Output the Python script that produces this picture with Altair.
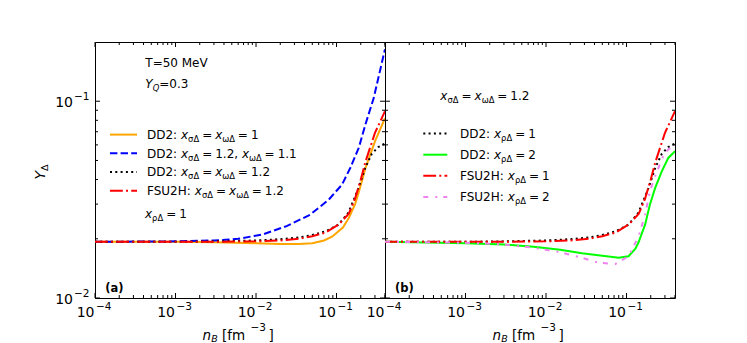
import altair as alt
import pandas as pd

FONT = "DejaVu Sans"

# ---------------- data ----------------
# panel (a)
orange_x = [1e-4, 1e-3, 3e-3, 1e-2, 0.02, 0.034, 0.05, 0.07, 0.088, 0.12, 0.142, 0.17, 0.189, 0.228, 0.30, 0.40]
orange_y = [0.0193, 0.0193, 0.0192, 0.0190, 0.0188, 0.0188, 0.0190, 0.0196, 0.0205, 0.0228, 0.0255, 0.0300, 0.0345, 0.0455, 0.0625, 0.082]

blue_x = [1e-4, 1e-3, 3e-3, 0.006, 0.012, 0.024, 0.047, 0.08, 0.117, 0.148, 0.189, 0.228, 0.29, 0.40]
blue_y = [0.0193, 0.0194, 0.0196, 0.0200, 0.0210, 0.0232, 0.0265, 0.0316, 0.0377, 0.0458, 0.058, 0.076, 0.104, 0.184]

black_x = [1e-4, 1e-3, 3e-3, 1e-2, 0.02, 0.034, 0.05, 0.073, 0.106, 0.141, 0.188, 0.227, 0.274, 0.33, 0.40]
black_y = [0.0193, 0.0193, 0.0194, 0.0196, 0.0199, 0.0203, 0.0209, 0.0218, 0.0236, 0.0272, 0.0363, 0.0458, 0.0540, 0.0585, 0.0610]

red_x = [1e-4, 1e-3, 3e-3, 1e-2, 0.02, 0.034, 0.05, 0.073, 0.106, 0.142, 0.17, 0.2, 0.228, 0.30, 0.40]
red_y = [0.0193, 0.0193, 0.0193, 0.0194, 0.0196, 0.0200, 0.0206, 0.0215, 0.0236, 0.0268, 0.032, 0.040, 0.049, 0.069, 0.089]

# panel (b)
green_x = [1e-4, 1e-3, 3e-3, 7e-3, 0.015, 0.028, 0.05, 0.08, 0.106, 0.129, 0.141, 0.17, 0.195, 0.227, 0.274, 0.33, 0.40]
green_y = [0.0193, 0.0190, 0.0187, 0.0182, 0.0176, 0.0169, 0.0164, 0.0160, 0.0163, 0.0178, 0.0192, 0.0236, 0.0298, 0.0363, 0.0440, 0.0515, 0.0557]

violet_x = [1e-4, 1e-3, 3e-3, 7e-3, 0.015, 0.028, 0.045, 0.073, 0.106, 0.141, 0.17, 0.195, 0.227, 0.29, 0.33, 0.40]
violet_y = [0.0193, 0.0191, 0.0187, 0.0180, 0.0171, 0.0160, 0.0151, 0.0149, 0.0163, 0.0205, 0.0265, 0.0348, 0.0416, 0.0536, 0.0569, 0.0600]

# ticks and tick labels (base / exponent)
x_major = [1e-4, 1e-3, 1e-2, 1e-1]
x_major_exp = ["−4", "−3", "−2", "−1"]
x_minor = [m * 10 ** k for k in (-4, -3, -2, -1) for m in range(2, 10) if m * 10 ** k <= 0.4]
y_major = [0.01, 0.1]
y_major_exp = ["−2", "−1"]
y_minor = [0.02, 0.03, 0.04, 0.05, 0.06, 0.07, 0.08, 0.09]

X_DOMAIN = [1e-4, 0.4]
Y_DOMAIN = [0.01, 0.2]

T_LABEL = "T=50 MeV"

# ---------------- layout constants ----------------
W, H = 290, 256
FS = 12
SUB = 0.7
SUB_DY = 3
EQ_GAP = 3
MAJ, MIN = 5, 3
TICK_FS, EXP_FS = 14, 10.5

xs = alt.Scale(type="log", domain=X_DOMAIN, nice=False)
ys = alt.Scale(type="log", domain=Y_DOMAIN, nice=False)

W_EM = {" ": 0.318, "0": 0.636, "1": 0.636, "2": 0.636, "3": 0.636, "4": 0.636, "5": 0.636,
        "=": 0.838, ":": 0.337, ".": 0.318, ",": 0.318, "D": 0.770, "F": 0.575, "S": 0.635,
        "U": 0.732, "H": 0.752, "T": 0.611, "M": 0.863, "e": 0.615, "V": 0.684, "Y": 0.611,
        "Q": 0.787, "x": 0.592, "n": 0.634, "B": 0.686, "σ": 0.634, "ω": 0.812, "ρ": 0.635,
        "Δ": 0.684}


def tw(s, fs):
    return sum(W_EM.get(c, 0.6) for c in s) * fs


def txt(t, x, y, fs, italic=False, bold=False, angle=0, dx=0, dy=0):
    kw = dict(align="left", baseline="alphabetic", font=FONT, fontSize=fs, color="black")
    if italic:
        kw["fontStyle"] = "italic"
    if bold:
        kw["fontWeight"] = "bold"
    if angle:
        kw["angle"] = angle
    if dx:
        kw["dx"] = dx
    if dy:
        kw["dy"] = dy
    return alt.Chart(alt.Data(values=[{"t": t}])).mark_text(**kw).encode(
        x=alt.value(x), y=alt.value(y), text="t:N")


def rich(segs, x0, yb, fs=FS):
    out = []
    x = x0
    for kind, s in segs:
        if kind == "eq":
            x += EQ_GAP
            out.append(txt("=", x, yb, fs))
            x += tw("=", fs) + EQ_GAP
        elif kind in ("sub", "subi"):
            f = fs * SUB
            out.append(txt(s, x, yb + SUB_DY, f, italic=(kind == "subi")))
            x += tw(s, f)
        else:
            out.append(txt(s, x, yb, fs, italic=(kind == "i")))
            x += tw(s, fs)
    return out


def xs_(g):
    return [("i", "x"), ("sub", g)]


def line(xv, yv, color, dash):
    df = pd.DataFrame({"x": xv, "y": yv})
    kw = dict(color=color, strokeWidth=2, clip=True)
    if dash:
        kw["strokeDash"] = dash
    return alt.Chart(df).mark_line(**kw).encode(
        x=alt.X("x:Q", scale=xs, axis=None),
        y=alt.Y("y:Q", scale=ys, axis=None))


def ticks():
    out = []
    for vals, L in ((x_major, MAJ), (x_minor, MIN)):
        d = pd.DataFrame({"v": vals})
        for y0, y1 in ((0, L), (H, H - L)):
            out.append(alt.Chart(d).mark_rule(color="black", strokeWidth=1).encode(
                x=alt.X("v:Q", scale=xs, axis=None), y=alt.value(y0), y2=alt.value(y1)))
    for vals, L in ((y_major, MAJ), (y_minor, MIN)):
        d = pd.DataFrame({"v": vals})
        for x0, x1 in ((0, L), (W, W - L)):
            out.append(alt.Chart(d).mark_rule(color="black", strokeWidth=1).encode(
                y=alt.Y("v:Q", scale=ys, axis=None), x=alt.value(x0), x2=alt.value(x1)))
    return out


def xlabels():
    d = pd.DataFrame({"v": x_major, "e": x_major_exp})
    base = alt.Chart(d).mark_text(align="right", baseline="alphabetic", font=FONT, fontSize=TICK_FS,
                                  color="black", dx=-0.5).encode(
        x=alt.X("v:Q", scale=xs, axis=None), y=alt.value(H + 19), text=alt.value("10"))
    ex = alt.Chart(d).mark_text(align="left", baseline="alphabetic", font=FONT, fontSize=EXP_FS,
                                color="black", dx=1).encode(
        x=alt.X("v:Q", scale=xs, axis=None), y=alt.value(H + 11.6), text="e:N")
    return [base, ex]


def ylabels():
    d = pd.DataFrame({"v": y_major, "e": y_major_exp})
    base = alt.Chart(d).mark_text(align="right", baseline="alphabetic", font=FONT, fontSize=TICK_FS,
                                  color="black", dy=5.5).encode(
        y=alt.Y("v:Q", scale=ys, axis=None), x=alt.value(-22), text=alt.value("10"))
    ex = alt.Chart(d).mark_text(align="left", baseline="alphabetic", font=FONT, fontSize=EXP_FS,
                                color="black", dy=-1.5).encode(
        y=alt.Y("v:Q", scale=ys, axis=None), x=alt.value(-21), text="e:N")
    return [base, ex]


def sample(x0, x1, y, color, dash):
    kw = dict(color=color, strokeWidth=2)
    if dash:
        kw["strokeDash"] = dash
    return alt.Chart(alt.Data(values=[{}])).mark_rule(**kw).encode(
        x=alt.value(x0), x2=alt.value(x1), y=alt.value(y))


def xtitle():
    b = 298
    return [txt("n", 107.5, b, 13.5, italic=True),
            txt("B", 116.3, b + 2, 9.5, italic=True),
            txt("[fm", 127, b, 13.5),
            txt("−3", 155.5, b - 9.5, 10.5),
            txt("]", 173.5, b, 13.5)]


ORANGE, BLUE, BLACK, RED, GREEN, VIOLET = "#ffa500", "#0000ff", "#000000", "#ff0000", "#00ff00", "#ee82ee"
D_DASH = [7.4, 3.2]
D_DOT = [2, 3.3]
D_DASHDOT = [12.8, 3.2, 2, 3.2]
D_VIOLET = [5, 7, 2, 6]

# ---------------- panel (a) ----------------
a_layers = [
    line(orange_x, orange_y, ORANGE, None),
    line(blue_x, blue_y, BLUE, D_DASH),
    line(black_x, black_y, BLACK, D_DOT),
    line(red_x, red_y, RED, D_DASHDOT),
]
a_layers += ticks() + xlabels() + ylabels()
a_layers.append(txt(T_LABEL, 50.3, 25, FS))
a_layers += rich([("i", "Y"), ("subi", "Q"), ("n", "=0.3")], 50.3, 46.3)
leg_a = [
    (ORANGE, None, [("n", "DD2: ")] + xs_("σΔ") + [("eq", "")] + xs_("ωΔ") + [("eq", ""), ("n", "1")]),
    (BLUE, D_DASH, [("n", "DD2: ")] + xs_("σΔ") + [("eq", ""), ("n", "1.2, ")] + xs_("ωΔ") + [("eq", ""), ("n", "1.1")]),
    (BLACK, D_DOT, [("n", "DD2: ")] + xs_("σΔ") + [("eq", "")] + xs_("ωΔ") + [("eq", ""), ("n", "1.2")]),
    (RED, D_DASHDOT, [("n", "FSU2H: ")] + xs_("σΔ") + [("eq", "")] + xs_("ωΔ") + [("eq", ""), ("n", "1.2")]),
]
for i, (c, d, segs) in enumerate(leg_a):
    yc = 92.6 + 18.7 * i
    a_layers.append(sample(15, 42, yc, c, d))
    a_layers += rich(segs, 52, yc + 4.4)
a_layers += rich(xs_("ρΔ") + [("eq", ""), ("n", "1")], 50, 176)
a_layers.append(txt("(a)", 10.3, 250.3, 11.5, bold=True))
a_layers += xtitle()
a_layers.append(txt("Y", -50, 137.6, 14, italic=True, angle=270))
a_layers.append(txt("Δ", -50, 137.6, 9.5, angle=270, dx=8.6, dy=3))

panel_a = alt.layer(*a_layers).properties(width=W, height=H)

# ---------------- panel (b) ----------------
b_layers = [
    line(black_x, black_y, BLACK, D_DOT),
    line(green_x, green_y, GREEN, None),
    line(red_x, red_y, RED, D_DASHDOT),
    line(violet_x, violet_y, VIOLET, D_VIOLET),
]
b_layers += ticks() + xlabels()
b_layers += rich(xs_("σΔ") + [("eq", "")] + xs_("ωΔ") + [("eq", ""), ("n", "1.2")], 55.3, 57.6)
leg_b = [
    (BLACK, D_DOT, [("n", "DD2: ")] + xs_("ρΔ") + [("eq", ""), ("n", "1")]),
    (GREEN, None, [("n", "DD2: ")] + xs_("ρΔ") + [("eq", ""), ("n", "2")]),
    (RED, D_DASHDOT, [("n", "FSU2H: ")] + xs_("ρΔ") + [("eq", ""), ("n", "1")]),
    (VIOLET, D_VIOLET, [("n", "FSU2H: ")] + xs_("ρΔ") + [("eq", ""), ("n", "2")]),
]
for i, (c, d, segs) in enumerate(leg_b):
    yc = 91.6 + 21.1 * i
    b_layers.append(sample(38.3, 62.3, yc, c, d))
    b_layers += rich(segs, 75, yc + 4.4)
b_layers.append(txt("(b)", 10, 250.3, 11.5, bold=True))
b_layers += xtitle()

panel_b = alt.layer(*b_layers).properties(width=W, height=H)

chart = alt.hconcat(panel_a, panel_b, spacing=0, bounds="flush").properties(
    padding={"left": 25, "top": 33, "right": 5, "bottom": 0},
    background="white",
).configure_view(stroke="black", strokeWidth=1)

chart.save("out.html", embed_options={"renderer": "svg", "actions": False})
